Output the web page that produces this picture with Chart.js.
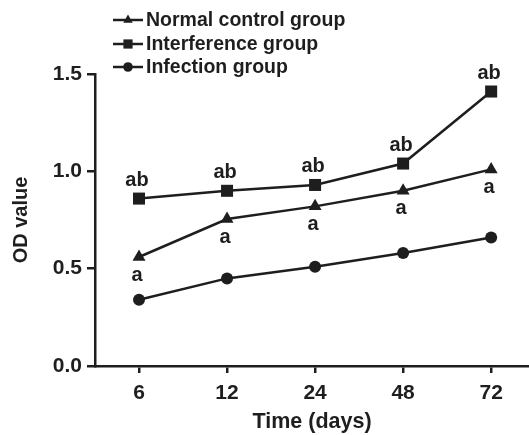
<!DOCTYPE html>
<html>
<head>
<meta charset="utf-8">
<script src="https://cdn.jsdelivr.net/npm/chart.js@4/dist/chart.umd.min.js"></script>
<style>
html,body{margin:0;padding:0;background:#fff;overflow:hidden;}
#wrap{width:529px;height:435px;position:relative;}
</style>
</head>
<body>
<div id="wrap"><canvas id="c" width="529" height="435"></canvas></div>
<script>
const categories = ['6', '12', '24', '48', '72'];
const normalControl = [0.56, 0.755, 0.82, 0.90, 1.01];
const interference = [0.86, 0.90, 0.93, 1.04, 1.41];
const infection = [0.34, 0.45, 0.51, 0.58, 0.66];
const normalLabels = ['a', 'a', 'a', 'a', 'a'];
const interferenceLabels = ['ab', 'ab', 'ab', 'ab', 'ab'];
const yTicks = [0, 0.5, 1.0, 1.5];

const INK = '#1e1e1e';
const FONT = '"Liberation Sans", Arial, Helvetica, sans-serif';

function pts(arr){ return arr.map((v,i)=>({x:i, y:v})); }

const seriesLabelPlugin = {
  id: 'seriesLabels',
  afterDatasetsDraw(chart){
    const ctx = chart.ctx;
    ctx.save();
    ctx.fillStyle = INK;
    ctx.font = 'bold 20px ' + FONT;
    ctx.textAlign = 'center';
    ctx.textBaseline = 'middle';
    const conf = [[1, interferenceLabels, -18], [0, normalLabels, 18]];
    conf.forEach(([di, labels, off])=>{
      const meta = chart.getDatasetMeta(di);
      meta.data.forEach((el, i)=>{
        ctx.fillText(labels[i], el.x - 2, el.y + off);
      });
    });
    ctx.restore();
  }
};

const legendPlugin = {
  id: 'customLegend',
  afterDraw(chart){
    const ctx = chart.ctx;
    ctx.save();
    const x0 = 113, x1 = 143, rows = [20, 44, 67];
    chart.data.datasets.forEach((ds, i)=>{
      const y = rows[i];
      ctx.strokeStyle = INK;
      ctx.lineWidth = 2.5;
      ctx.beginPath(); ctx.moveTo(x0, y); ctx.lineTo(x1, y); ctx.stroke();
      ctx.fillStyle = INK;
      Chart.helpers.drawPoint(ctx, {pointStyle: ds.pointStyle, radius: ds.legendRadius, borderWidth: 0}, (x0+x1)/2, y);
      ctx.fillStyle = INK;
      ctx.font = 'bold 19.5px ' + FONT;
      ctx.textAlign = 'left';
      ctx.textBaseline = 'middle';
      ctx.fillText(ds.label, 146, y + 1);
    });
    ctx.restore();
  }
};

const common = {borderColor: INK, backgroundColor: INK, pointBackgroundColor: INK, pointBorderColor: INK, borderWidth: 2.5, pointBorderWidth: 0, tension: 0, fill: false};

new Chart(document.getElementById('c'), {
  type: 'line',
  data: {
    datasets: [
      Object.assign({label: 'Normal control group', data: pts(normalControl), pointStyle: 'triangle', pointRadius: 7.5, legendRadius: 5.5}, common),
      Object.assign({label: 'Interference group', data: pts(interference), pointStyle: 'rect', pointRadius: 8.5, legendRadius: 6.5}, common),
      Object.assign({label: 'Infection group', data: pts(infection), pointStyle: 'circle', pointRadius: 6, legendRadius: 4.8}, common)
    ]
  },
  options: {
    responsive: false,
    animation: false,
    events: [],
    clip: false,
    layout: {autoPadding: false, padding: {top: 74, right: 0, left: 0, bottom: 0}},
    plugins: {legend: {display: false}, tooltip: {enabled: false}},
    scales: {
      x: {
        type: 'linear',
        min: -0.5,
        max: 4.43,
        afterBuildTicks(scale){ scale.ticks = categories.map((c,i)=>({value:i})); },
        afterFit(scale){ scale.height = 69; scale.paddingRight = 0; scale.paddingLeft = 0; },
        border: {display: true, color: INK, width: 2.5},
        grid: {display: true, drawOnChartArea: false, drawTicks: true, tickLength: 7, color: INK, lineWidth: 2.5},
        ticks: {
          color: INK, font: {family: FONT, size: 21, weight: 'bold'}, padding: 8,
          maxRotation: 0, autoSkip: false,
          callback(v){ return categories[v]; }
        },
        title: {display: true, text: 'Time (days)', color: INK, font: {family: FONT, size: 21.5, weight: 'bold'}, padding: {top: 0, bottom: 0}}
      },
      y: {
        min: 0, max: 1.5,
        afterBuildTicks(scale){ scale.ticks = yTicks.map(v=>({value:v})); },
        afterFit(scale){ scale.width = 95; scale.paddingTop = 0; scale.paddingBottom = 0; },
        border: {display: true, color: INK, width: 2.5},
        grid: {display: true, drawOnChartArea: false, drawTicks: true, tickLength: 8, color: INK, lineWidth: 2.5},
        ticks: {
          color: INK, font: {family: FONT, size: 21, weight: 'bold'}, padding: 5,
          callback(v){ return v.toFixed(1); }
        },
        title: {display: true, text: 'OD value', color: INK, font: {family: FONT, size: 20, weight: 'bold'}, padding: {top: 9, bottom: 4}}
      }
    }
  },
  plugins: [seriesLabelPlugin, legendPlugin]
});
</script>
</body>
</html>
